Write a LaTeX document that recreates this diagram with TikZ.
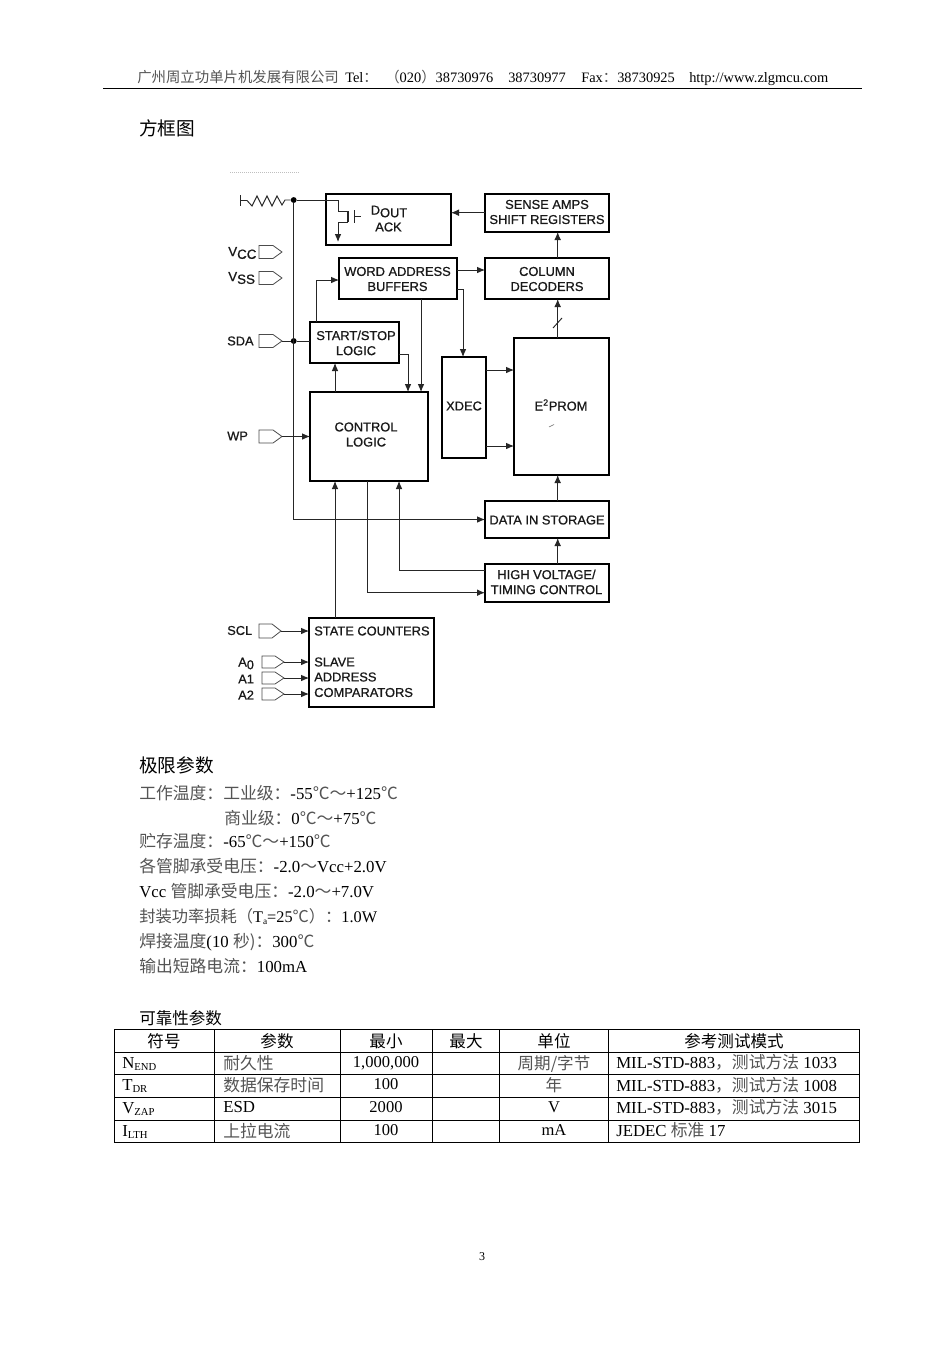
\documentclass[tikz,border=0pt]{standalone}
\usepackage{fontspec}
\setmainfont{Liberation Serif}
\newfontfamily\cjk{Noto Sans CJK SC}
\newfontfamily\dgm[FakeBold=0.8]{Liberation Sans}
\usetikzlibrary{arrows.meta}
\definecolor{cjkg}{gray}{0.33}
\newcommand{\C}[1]{{\cjk\color{cjkg}#1}}
\newcommand{\K}[1]{{\cjk\color{black}#1}}
\newcommand{\sbs}[1]{\raisebox{-1.6pt}{\fontsize{8}{8}\selectfont #1}}
\newcommand{\lowr}[1]{\raisebox{-2pt}{#1}}
\tikzset{
  x=0.75pt,y=-0.75pt,
  conn/.style={line width=0.7pt,draw=black!85},
  arr/.style={conn,-{Latex[length=6pt,width=5pt]}},
  blockbox/.style={draw=black,line width=1.05pt,fill=none,inner sep=0pt,outer sep=0pt},
  heavybox/.style={blockbox,line width=1.3pt},
  pinshape/.style={draw=black!70,line width=0.6pt},
  lbl/.style={font=\dgm\fontsize{9.65}{11.3}\selectfont,align=center,inner sep=0pt,text=black!90},
  lbll/.style={lbl,anchor=west,align=left},
  dot/.style={circle,fill=black,inner sep=0pt,minimum size=4.4pt},
  head/.style={anchor=base west,inner sep=0pt,font=\fontsize{10.8}{12}\selectfont},
  body/.style={anchor=base west,inner sep=0pt,font=\fontsize{12.6}{14}\selectfont},
  title/.style={anchor=base west,inner sep=0pt,font=\cjk\fontsize{14}{16}\selectfont},
  tcell/.style={anchor=base,inner sep=0pt,font=\fontsize{12.4}{14}\selectfont},
  tleft/.style={anchor=base west,inner sep=0pt,font=\fontsize{12.6}{14}\selectfont},
  rulel/.style={draw=black,line width=0.75pt}
}
\newcommand{\pxbox}[6][blockbox]{%
  \pgfmathsetmacro{\cxx}{(#3+#5)/2}\pgfmathsetmacro{\cyy}{(#4+#6)/2}%
  \pgfmathsetmacro{\bwd}{(#5-#3)*0.75}\pgfmathsetmacro{\bht}{(#6-#4)*0.75}%
  \node[#1,minimum width=\bwd pt,minimum height=\bht pt] (#2) at (\cxx,\cyy) {};}
\newcommand{\pinat}[5]{%
  \pgfmathsetmacro{\myy}{(#3+#5)/2}\pgfmathsetmacro{\xn}{#4-9}%
  \draw[pinshape] (#2,#3) -- (\xn,#3) -- (#4,\myy) -- (\xn,#5) -- (#2,#5) -- cycle;%
  \coordinate (#1) at (#4,\myy);}
\begin{document}
\begin{tikzpicture}
\useasboundingbox (0,0) rectangle (950,1345);
\fill[white] (0,0) rectangle (950,1345);
% header
\node[head] (h1) at (137,83) {\C{广州周立功单片机发展有限公司}};
\node[head] (h2) at (345,83) {Tel\C{：}};
\node[head] (h3) at (385,83) {\C{（}020\C{）}38730976};
\node[head] (h4) at (508,83) {38730977};
\node[head] (h5) at (581,83) {Fax\C{：}38730925};
\node[head] (h6) at (689,83) {http://www.zlgmcu.com};
\draw[rulel] (103,88.5) -- (862,88.5);
\node[title] (t1) at (139,135) {方框图};
\draw[black!25,line width=0.5pt,densely dotted] (230,172) -- (300,172);
% blocks
\pxbox{dout}{326}{194}{451}{245}
\pxbox{sense}{485}{194}{609}{232}
\pxbox{column}{485}{258}{609}{299}
\pxbox{word}{339}{258}{457}{299}
\pxbox{start}{310}{322}{399}{363}
\pxbox[heavybox]{control}{310}{392}{428}{481}
\pxbox{xdec}{442}{357}{486}{458}
\pxbox{eeprom}{514}{338}{609}{475}
\pxbox{data}{485}{501}{609}{538}
\pxbox{high}{485}{564}{609}{602}
\pxbox{state}{309}{618}{434}{707}
% block labels
\node[lbl] (ldout) at (389,211.5) {D\lowr{OUT}};
\node[lbl] (lack) at (388.5,227) {ACK};
\node[lbl] (lsense) at (547,212) {SENSE AMPS\\SHIFT REGISTERS};
\node[lbl] (lcol) at (547,279) {COLUMN\\DECODERS};
\node[lbl] (lword) at (397.5,279) {WORD ADDRESS\\BUFFERS};
\node[lbl] (lstart) at (356,343) {START/STOP\\LOGIC};
\node[lbl] (lctrl) at (366,434.5) {CONTROL\\LOGIC};
\node[lbl] (lxdec) at (464,406) {XDEC};
\node[lbl] (lee) at (561,405) {E\textsuperscript{2}PROM};
\node[lbl] (ldata) at (547,520) {DATA IN STORAGE};
\node[lbl] (lhigh) at (546.5,582) {HIGH VOLTAGE/\\TIMING CONTROL};
\node[lbll] (lstate) at (314,631) {STATE COUNTERS};
\node[lbll] (lslave) at (314,662) {SLAVE};
\node[lbll] (laddr) at (314,677) {ADDRESS};
\node[lbll] (lcomp) at (314,692.5) {COMPARATORS};
% pins
\pinat{vcc}{259}{245.5}{282}{258.5}
\pinat{vss}{259}{271.5}{282}{284.5}
\pinat{sda}{259}{334.5}{282}{347.5}
\pinat{wp}{259}{430}{282}{443}
\pinat{scl}{259}{624}{281}{638}
\pinat{azero}{262}{656}{284}{668}
\pinat{aone}{262}{672}{284}{684}
\pinat{atwo}{262}{688}{284}{700}
\node[lbl,anchor=west] (lvcc) at (228,253) {\fontsize{10}{11}\selectfont V\lowr{CC}};
\node[lbl,anchor=west] (lvss) at (228,278) {\fontsize{10}{11}\selectfont V\lowr{SS}};
\node[lbl,anchor=west] (lsda) at (227,341) {\fontsize{9.6}{11}\selectfont SDA};
\node[lbl,anchor=west] (lwp) at (227,436) {\fontsize{9.6}{11}\selectfont WP};
\node[lbl,anchor=west] (lscl) at (227,630.5) {\fontsize{9.6}{11}\selectfont SCL};
\node[lbl,anchor=west] (la0) at (238,663.5) {\fontsize{9.6}{11}\selectfont A\lowr{0}};
\node[lbl,anchor=west] (la1) at (238,679) {\fontsize{9.6}{11}\selectfont A1};
\node[lbl,anchor=west] (la2) at (238,695) {\fontsize{9.6}{11}\selectfont A2};
% junctions
\node[dot] (j1) at (293.7,200) {};
\node[dot] (j2) at (293.7,341) {};
% resistor
\coordinate (rb1) at (240.5,195);
\coordinate (rb2) at (240.5,206);
\coordinate (rs) at (240.5,200.5);
\draw[conn] (rb1) -- (rb2);
\draw[conn] (rs) -- (247,200.5) -- (252,206) -- (257,196) -- (262,206) -- (267,196) -- (272,206) -- (277,196) -- (282,205) -- (285,200) -- (j1);
% transistor
\coordinate (q1) at (338,200);
\coordinate (q1b) at (338,211);
\coordinate (q2) at (348,211);
\coordinate (q3) at (348,222);
\coordinate (q3b) at (338,222);
\coordinate (q4) at (338,242);
\coordinate (g1) at (354,210);
\coordinate (g2) at (354,223);
\coordinate (g3) at (354,216.5);
\coordinate (g4) at (361,216.5);
\draw[conn] (j1) -- (q1) -- (q1b) -- (q2);
\draw[conn,line width=1pt] (q2) -- (q3);
\draw[arr] (q3) -- (q3b) -- (q4);
\draw[conn] (g1) -- (g2);
\draw[conn] (g3) -- (g4);
% guide coordinates
\coordinate (xa) at (557.7,0);
\coordinate (xb) at (316.7,280);
\coordinate (xc) at (421,270);
\coordinate (xd) at (463,289);
\coordinate (xe) at (408,354);
\coordinate (xf) at (335,370);
\coordinate (xg) at (0,446);
\coordinate (xh) at (0,370);
\coordinate (xi) at (399,570);
\coordinate (xj) at (367,592.7);
\coordinate (xk) at (0,212.7);
\coordinate (sl1) at (553,328);
\coordinate (sl2) at (562,318);
% connectors
\draw[arr] (sense.west |- xk) -- (dout.east |- xk);
\draw[arr] (eeprom.north -| xa) -- (column.south -| xa);
\draw[conn] (sl1) -- (sl2);
\draw[arr] (column.north -| xa) -- (sense.south -| xa);
\draw[arr] (word.east |- xc) -- (column.west |- xc);
\draw[arr] (start.north -| xb) |- (word.west |- xb);
\draw[conn] (word.east |- xd) -- (xd);
\draw[arr] (xd) -- (xdec.north -| xd);
\draw[arr] (word.south -| xc) -- (control.north -| xc);
\draw[conn] (start.east |- xe) -- (xe);
\draw[arr] (xe) -- (control.north -| xe);
\draw[arr] (control.north -| xf) -- (start.south -| xf);
\draw[arr] (xdec.east |- xh) -- (eeprom.west |- xh);
\draw[arr] (xdec.east |- xg) -- (eeprom.west |- xg);
\draw[conn] (sda) -- (j2) -- (start.west |- j2);
\draw[arr] (j1) |- (data.west);
\draw[arr] (wp) -- (control.west |- wp);
\draw[arr] (state.north -| xf) -- (control.south -| xf);
\draw[arr] (high.west |- xi) -- (xi) -- (control.south -| xi);
\draw[arr] (control.south -| xj) |- (high.west |- xj);
\draw[arr] (high.north -| xa) -- (data.south -| xa);
\draw[arr] (data.north -| xa) -- (eeprom.south -| xa);
\draw[arr] (scl) -- (state.west |- scl);
\draw[arr] (azero) -- (state.west |- azero);
\draw[arr] (aone) -- (state.west |- aone);
\draw[arr] (atwo) -- (state.west |- atwo);
% scan marks
\draw[black!60,line width=0.4pt] (549,427) -- (554,424.5);
% limits
\node[title] (t2) at (139,772) {极限参数};
\node[body] (b1) at (139,799) {\C{工作温度：工业级：}-55\C{℃～}+125\C{℃}};
\node[body] (b2) at (224,824) {\C{商业级：}0\C{℃～}+75\C{℃}};
\node[body] (b3) at (139,847.5) {\C{贮存温度：}-65\C{℃～}+150\C{℃}};
\node[body] (b4) at (139,872.5) {\C{各管脚承受电压：}-2.0\C{～}Vcc+2.0V};
\node[body] (b5) at (139,897.5) {Vcc \C{管脚承受电压：}-2.0\C{～}+7.0V};
\node[body,font=\fontsize{12.2}{14}\selectfont] (b6) at (139,922) {\C{封装功率损耗（}T\raisebox{-1.5pt}{\fontsize{7}{7}\selectfont a}=25\C{℃）：}1.0W};
\node[body] (b7) at (139,947) {\C{焊接温度}(10 \C{秒)：}300\C{℃}};
\node[body] (b8) at (139,972) {\C{输出短路电流：}100mA};
% table
\node[title,font=\cjk\fontsize{12.4}{14}\selectfont] (t3) at (139,1024) {可靠性参数};
\draw[rulel] (114.5,1029) rectangle (859.5,1142);
\foreach \xx in {214,340,432,499,608} \draw[rulel] (\xx,1029) -- (\xx,1142);
\foreach \yy in {1052,1074.5,1097,1120} \draw[rulel] (114.5,\yy) -- (859.5,\yy);
\node[tcell] (c01) at (164,1047.5) {\K{符号}};
\node[tcell] (c02) at (277,1047.5) {\K{参数}};
\node[tcell] (c03) at (386,1047.5) {\K{最小}};
\node[tcell] (c04) at (466,1047.5) {\K{最大}};
\node[tcell] (c05) at (554,1047.5) {\K{单位}};
\node[tcell] (c06) at (734,1047.5) {\K{参考测试模式}};
\node[tleft] (c11) at (122,1068) {N\sbs{END}};
\node[tleft] (c12) at (223,1069) {\C{耐久性}};
\node[tcell] (c13) at (386,1067.5) {1,000,000};
\node[tcell] (c15) at (554,1069) {\C{周期/字节}};
\node[tleft] (c16) at (616,1068.5) {MIL-STD-883\C{，测试方法} 1033};
\node[tleft] (c21) at (122,1090) {T\sbs{DR}};
\node[tleft] (c22) at (223,1091.5) {\C{数据保存时间}};
\node[tcell] (c23) at (386,1089) {100};
\node[tcell] (c25) at (554,1091) {\C{年}};
\node[tleft] (c26) at (616,1091) {MIL-STD-883\C{，测试方法} 1008};
\node[tleft] (c31) at (122,1113) {V\sbs{ZAP}};
\node[tleft] (c32) at (223,1112) {ESD};
\node[tcell] (c33) at (386,1112) {2000};
\node[tcell] (c35) at (554,1112) {V};
\node[tleft] (c36) at (616,1113.5) {MIL-STD-883\C{，测试方法} 3015};
\node[tleft] (c41) at (122,1136) {I\sbs{LTH}};
\node[tleft] (c42) at (223,1137.5) {\C{上拉电流}};
\node[tcell] (c43) at (386,1135) {100};
\node[tcell] (c45) at (554,1135) {mA};
\node[tleft] (c46) at (616,1136.5) {JEDEC \C{标准} 17};
% page number
\node[inner sep=0pt,font=\fontsize{9}{10}\selectfont] (pg) at (482,1256.5) {3};
\end{tikzpicture}
\end{document}
